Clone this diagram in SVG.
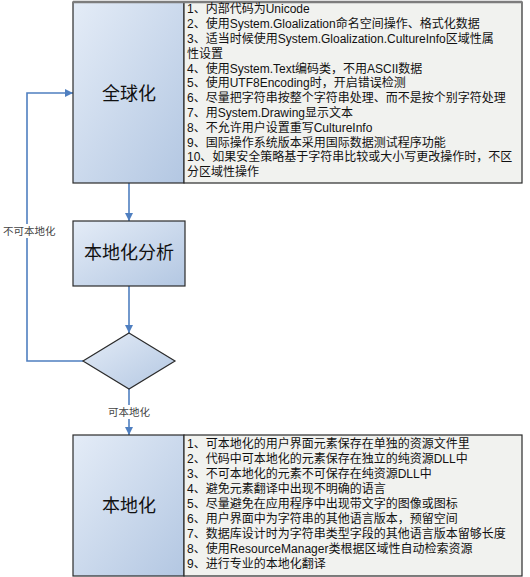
<svg xmlns="http://www.w3.org/2000/svg" width="530" height="577" viewBox="0 0 530 577">
<defs>
<linearGradient id="blue" x1="0" y1="0" x2="1" y2="1">
<stop offset="0" stop-color="#e4ecf7"/>
<stop offset="1" stop-color="#b3c7e2"/>
</linearGradient>
<marker id="arr" viewBox="0 0 10 10" refX="10" refY="5" markerWidth="8" markerHeight="8" markerUnits="userSpaceOnUse" orient="auto">
<path d="M0,0 L10,5 L0,10 z" fill="#4f7fc0"/>
</marker>
</defs>
<style>
.head{fill:url(#blue);stroke:#2b2b2b;stroke-width:1.2}
.body{fill:#f1f2ef;stroke:#2b2b2b;stroke-width:1.2}
.title{font-family:"Liberation Sans","Noto Sans CJK SC",sans-serif;font-size:18px;fill:#111;text-anchor:middle}
.item{font-family:"Liberation Sans","Noto Sans CJK SC",sans-serif;font-size:12px;fill:#111}
.lbl{font-family:"Liberation Serif","Noto Sans CJK SC",serif;font-size:10.5px;fill:#444}
.conn{fill:none;stroke:#4f7fc0;stroke-width:1.6}
</style>
<rect width="530" height="577" fill="#ffffff"/>
<g id="connectors">
<path class="conn" d="M129,183 L129,221" marker-end="url(#arr)"/>
<path class="conn" d="M129,286 L129,333" marker-end="url(#arr)"/>
<path class="conn" d="M129,389 L129,435" marker-end="url(#arr)"/>
<path class="conn" d="M83,361 L27,361 L27,93 L73,93" marker-end="url(#arr)"/>
<rect x="106" y="405" width="46" height="14" fill="#ffffff"/>
<text class="lbl" x="129" y="416" text-anchor="middle">可本地化</text>
<rect x="2" y="224" width="52" height="14" fill="#ffffff"/>
<text class="lbl" x="3" y="235">不可本地化</text>
</g>
<g id="globalization">
<rect class="head" x="73" y="2" width="111" height="181"/>
<rect class="body" x="184" y="2" width="338" height="181"/>
<line x1="73" y1="2" x2="522" y2="2" stroke="#7d7d7d" stroke-width="2.5"/>
<text class="title" x="129" y="100">全球化</text>
<text class="item">
<tspan x="187" y="13.4">1、内部代码为Unicode</tspan>
<tspan x="187" y="28.2">2、使用System.Gloalization命名空间操作、格式化数据</tspan>
<tspan x="187" y="43">3、适当时候使用System.Gloalization.CultureInfo区域性属</tspan>
<tspan x="187" y="57.8">性设置</tspan>
<tspan x="187" y="72.6">4、使用System.Text编码类，不用ASCII数据</tspan>
<tspan x="187" y="87.4">5、使用UTF8Encoding时，开启错误检测</tspan>
<tspan x="187" y="102.2">6、尽量把字符串按整个字符串处理、而不是按个别字符处理</tspan>
<tspan x="187" y="117">7、用System.Drawing显示文本</tspan>
<tspan x="187" y="131.8">8、不允许用户设置重写CultureInfo</tspan>
<tspan x="187" y="146.6">9、国际操作系统版本采用国际数据测试程序功能</tspan>
<tspan x="187" y="161.4">10、如果安全策略基于字符串比较或大小写更改操作时，不区</tspan>
<tspan x="187" y="176.2">分区域性操作</tspan>
</text>
</g>
<g id="analysis">
<rect class="head" x="73" y="221" width="112" height="65"/>
<text class="title" x="129" y="259" font-size="17">本地化分析</text>
</g>
<g id="decision">
<path class="head" d="M129,333 L175,361 L129,389 L83,361 z"/>
</g>
<g id="localization">
<rect class="head" x="73" y="435" width="111" height="141"/>
<rect class="body" x="184" y="435" width="338" height="141"/>
<text class="title" x="129" y="512">本地化</text>
<text class="item">
<tspan x="187" y="448.3">1、可本地化的用户界面元素保存在单独的资源文件里</tspan>
<tspan x="187" y="463.3">2、代码中可本地化的元素保存在独立的纯资源DLL中</tspan>
<tspan x="187" y="478.3">3、不可本地化的元素不可保存在纯资源DLL中</tspan>
<tspan x="187" y="493.3">4、避免元素翻译中出现不明确的语言</tspan>
<tspan x="187" y="508.3">5、尽量避免在应用程序中出现带文字的图像或图标</tspan>
<tspan x="187" y="523.3">6、用户界面中为字符串的其他语言版本，预留空间</tspan>
<tspan x="187" y="538.3">7、数据库设计时为字符串类型字段的其他语言版本留够长度</tspan>
<tspan x="187" y="553.3">8、使用ResourceManager类根据区域性自动检索资源</tspan>
<tspan x="187" y="568.3">9、进行专业的本地化翻译</tspan>
</text>
</g>
</svg>
